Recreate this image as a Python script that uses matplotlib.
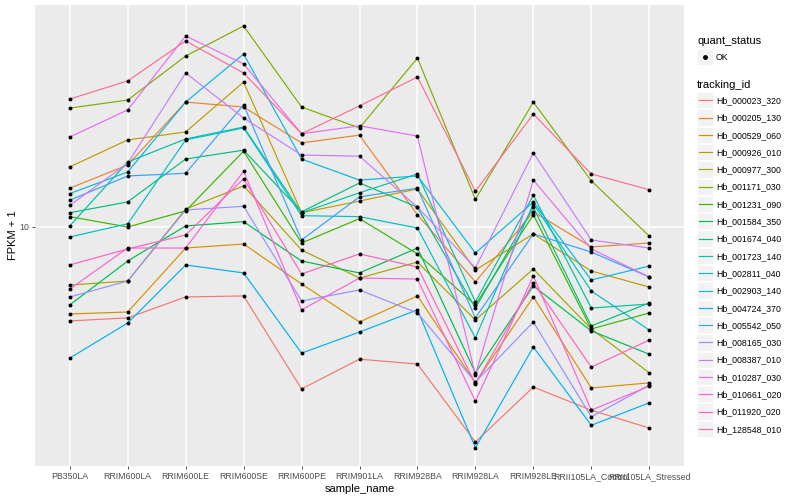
import numpy as np
import matplotlib.pyplot as plt
from matplotlib.lines import Line2D
from matplotlib.patches import Rectangle
from matplotlib.ticker import NullLocator

plt.rcParams['font.family'] = ['Liberation Sans', 'DejaVu Sans']

samples = ['PB350LA', 'RRIM600LA', 'RRIM600LE', 'RRIM600SE', 'RRIM600PE',
           'RRIM901LA', 'RRIM928BA', 'RRIM928LA', 'RRIM928LE',
           'RRII105LA_Control', 'RRII105LA_Stressed']

# FPKM + 1 por muestra
hb_000023_320 = [4.21, 4.33, 5.25, 5.30, 2.25, 2.96, 2.83, 1.38, 2.29, 1.85, 1.57]
hb_000205_130 = [14.3, 17.7, 31.6, 30.2, 21.7, 23.3, 11.2, 6.03, 11.5, 8.32, 8.63]
hb_000529_060 = [4.49, 4.57, 8.24, 8.55, 5.92, 4.17, 5.30, 2.38, 5.25, 2.27, 2.38]
hb_000926_010 = [17.4, 22.3, 24.0, 38.0, 11.4, 12.7, 14.2, 6.73, 9.38, 6.67, 5.75]
hb_000977_300 = [5.86, 6.08, 11.8, 14.6, 8.09, 6.25, 7.24, 4.25, 6.79, 3.91, 2.61]
hb_001171_030 = [29.9, 32.2, 48.3, 63.7, 30.2, 24.9, 47.4, 12.9, 31.6, 15.3, 9.2]
hb_001231_090 = [11.0, 10.0, 11.6, 20.1, 8.63, 10.8, 7.80, 4.88, 11.2, 3.91, 4.53]
hb_001584_350 = [4.88, 7.31, 10.1, 10.5, 7.31, 6.55, 8.24, 2.61, 5.81, 3.84, 3.10]
hb_001674_040 = [11.4, 12.6, 18.7, 20.3, 11.5, 15.0, 12.0, 4.74, 12.0, 4.02, 4.97]
hb_001723_140 = [10.1, 18.2, 22.5, 25.1, 11.4, 13.7, 16.3, 5.01, 13.4, 4.74, 4.92]
hb_002811_040 = [9.12, 10.3, 22.3, 24.9, 11.1, 11.0, 9.91, 3.60, 12.4, 5.55, 3.87]
hb_002903_140 = [13.6, 16.6, 31.6, 49.2, 18.7, 15.4, 16.0, 7.87, 12.6, 6.14, 6.98]
hb_004724_370 = [2.99, 4.13, 7.05, 6.55, 3.13, 3.80, 4.66, 1.31, 3.31, 1.61, 1.98]
hb_005542_050 = [12.8, 16.0, 16.4, 30.8, 8.87, 13.2, 14.3, 4.33, 9.38, 7.94, 6.31]
hb_008165_030 = [5.25, 6.08, 11.7, 12.1, 5.06, 5.60, 4.53, 2.40, 4.17, 1.74, 2.33]
hb_008387_010 = [12.2, 18.0, 41.3, 27.3, 19.4, 19.2, 12.0, 6.86, 19.8, 8.87, 8.24]
hb_010287_030 = [22.9, 29.4, 58.1, 44.9, 23.6, 25.4, 23.1, 2.56, 15.4, 8.17, 6.31]
hb_010661_020 = [5.65, 8.24, 8.24, 16.7, 4.66, 6.25, 6.19, 2.01, 6.37, 1.85, 2.31]
hb_011920_020 = [7.05, 8.17, 9.29, 15.6, 6.49, 7.80, 6.92, 2.36, 5.97, 2.75, 3.53]
hb_128548_010 = [32.5, 38.4, 55.5, 41.3, 23.6, 30.5, 39.8, 13.9, 28.3, 16.3, 14.1]

ids = ['Hb_000023_320', 'Hb_000205_130', 'Hb_000529_060', 'Hb_000926_010',
       'Hb_000977_300', 'Hb_001171_030', 'Hb_001231_090', 'Hb_001584_350',
       'Hb_001674_040', 'Hb_001723_140', 'Hb_002811_040', 'Hb_002903_140',
       'Hb_004724_370', 'Hb_005542_050', 'Hb_008165_030', 'Hb_008387_010',
       'Hb_010287_030', 'Hb_010661_020', 'Hb_011920_020', 'Hb_128548_010']
series = [hb_000023_320, hb_000205_130, hb_000529_060, hb_000926_010,
          hb_000977_300, hb_001171_030, hb_001231_090, hb_001584_350,
          hb_001674_040, hb_001723_140, hb_002811_040, hb_002903_140,
          hb_004724_370, hb_005542_050, hb_008165_030, hb_008387_010,
          hb_010287_030, hb_010661_020, hb_011920_020, hb_128548_010]

# paleta hue de ggplot para 20 niveles
colores = ['#F8766D', '#EA8331', '#D89000', '#C09B00', '#A3A500',
           '#7CAE00', '#39B600', '#00BB4E', '#00BF7D', '#00C1A3',
           '#00BFC4', '#00BAE0', '#00B0F6', '#35A2FF', '#9590FF',
           '#C77CFF', '#E76BF3', '#FA62DB', '#FF62BC', '#FF6C91']

W, H = 800, 500
fig = plt.figure(figsize=(8, 5), dpi=100)
fig.patch.set_facecolor('white')

# panel en pixeles: x 35-684, y 5-466
ax = fig.add_axes([35 / W, 1 - 466 / H, (684 - 35) / W, (466 - 5) / H])
ax.set_facecolor('#EBEBEB')
for s in ax.spines.values():
    s.set_visible(False)

x = np.arange(len(samples))
for vals, col in zip(series, colores):
    ax.plot(x, vals, color=col, lw=0.85, zorder=3)
for vals in series:
    ax.scatter(x, vals, color='black', s=8, zorder=4, linewidths=0)

ax.set_yscale('log')
ax.set_ylim(10 ** 0.044, 10 ** 1.888)
ax.set_xlim(-0.6, len(samples) - 0.4)
ax.set_yticks([10])
ax.set_yticklabels(['10'])
ax.yaxis.set_minor_locator(NullLocator())
ax.set_xticks(x)
ax.set_xticklabels(samples)
ax.grid(True, which='major', color='white', lw=1.1, zorder=1)
ax.set_axisbelow(True)
ax.tick_params(axis='both', length=2.2, width=0.6, color='#333333',
               labelcolor='#4D4D4D', labelsize=6.3, pad=2)
ax.set_xlabel('sample_name', fontsize=8, labelpad=2)
ax.set_ylabel('FPKM + 1', fontsize=8, labelpad=1)

# leyenda dibujada a mano, en pixeles
lg = fig.add_axes([0, 0, 1, 1], facecolor='none')
lg.set_xlim(0, W)
lg.set_ylim(H, 0)
lg.axis('off')

kx, ksz = 697, 17.3
lg.text(kx, 41, 'quant_status', fontsize=8, va='center', ha='left')
lg.add_patch(Rectangle((kx, 57.3 - ksz / 2), ksz - 1, ksz - 1, facecolor='#F2F2F2',
                       edgecolor='white', lw=0.5))
lg.plot([kx + 8], [57.3 - 0.5], 'o', color='black', ms=2.5)
lg.text(kx + 19, 57.3, 'OK', fontsize=6.3, va='center', ha='left')

lg.text(kx, 85, 'tracking_id', fontsize=8, va='center', ha='left')
for i, (nm, col) in enumerate(zip(ids, colores)):
    yc = 100.7 + i * ksz
    lg.add_patch(Rectangle((kx, yc - ksz / 2), ksz - 1, ksz - 1, facecolor='#F2F2F2',
                           edgecolor='white', lw=0.5))
    lg.plot([kx + 1.5, kx + ksz - 2.5], [yc - 0.5, yc - 0.5], color=col, lw=0.85)
    lg.text(kx + 19, yc, nm, fontsize=6.3, va='center', ha='left')

fig.savefig('out.png', dpi=100)
